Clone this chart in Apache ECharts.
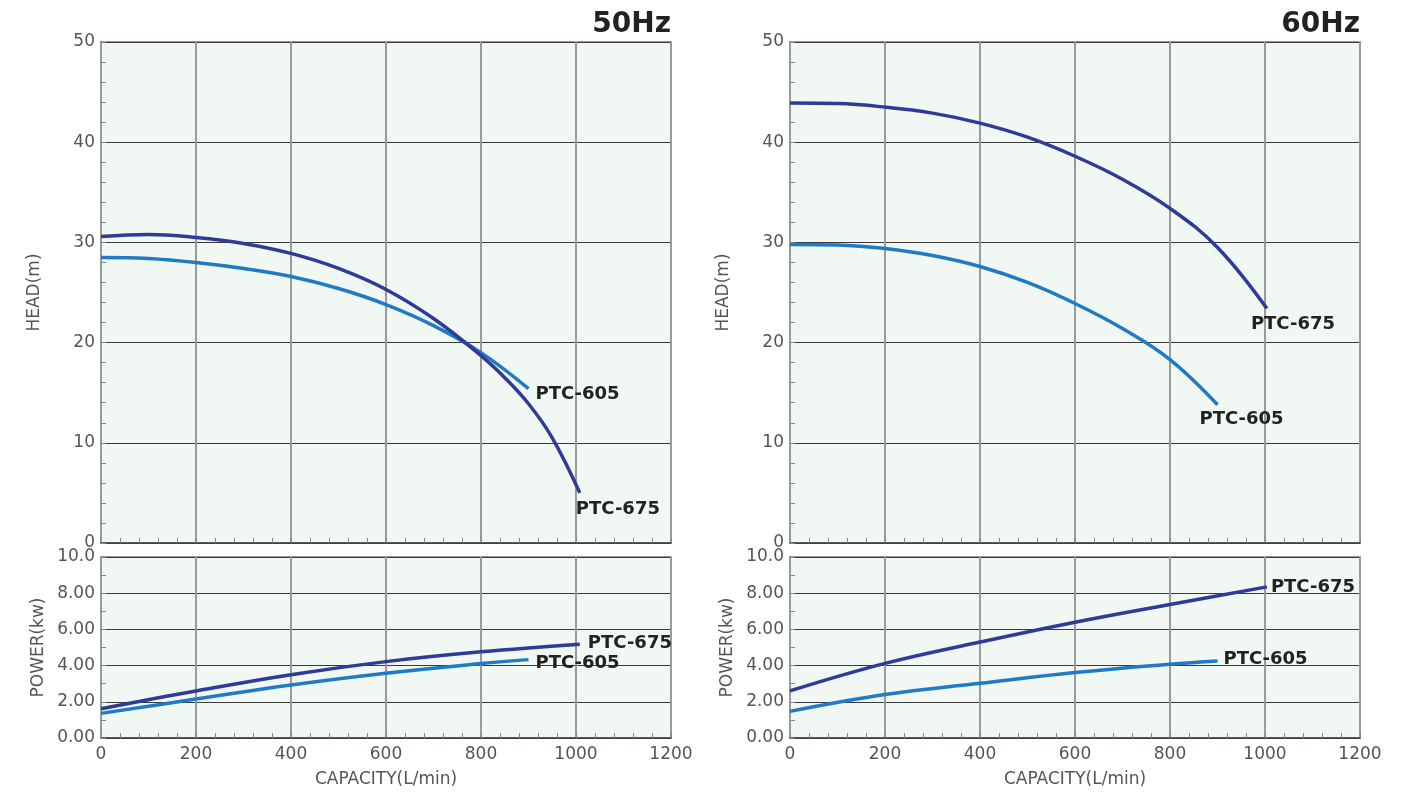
<!DOCTYPE html>
<html lang="en">
<head>
    <meta charset="UTF-8">
    <title>pump curves</title>
    <script src="https://cdn.jsdelivr.net/npm/echarts@6/dist/echarts.min.js"></script>
    <style type="text/css">
        body {
            margin: 0;
            padding: 0;
            background: #fff;
        }

        #chart {
            width: 1419px;
            height: 797px;
        }
    </style>
</head>
<body>
<div id="chart"></div>

<script>
    // x axis ticks (L/min)
    const capacityTicks = [0, 200, 400, 600, 800, 1000, 1200];

    // 50Hz head (m)
    const q50Head605 = [0, 100, 200, 300, 400, 500, 600, 700, 800, 900];
    const head50_605 = [28.5, 28.4, 28.0, 27.4, 26.6, 25.4, 23.8, 21.7, 19.0, 15.4];
    const q50Head675 = [0, 100, 200, 300, 400, 500, 600, 700, 800, 850, 900, 950, 1008];
    const head50_675 = [30.6, 30.8, 30.5, 29.9, 28.9, 27.4, 25.3, 22.4, 18.7, 16.5, 13.9, 10.5, 5.0];

    // 50Hz power (kw)
    const q50Pow675 = [0, 200, 400, 600, 800, 1008];
    const pow50_675 = [1.62, 2.6, 3.5, 4.22, 4.76, 5.18];
    const q50Pow605 = [0, 200, 400, 600, 800, 900];
    const pow50_605 = [1.36, 2.15, 2.93, 3.58, 4.11, 4.33];

    // 60Hz head (m)
    const q60Head675 = [0, 100, 200, 300, 400, 500, 600, 700, 800, 900, 1004];
    const head60_675 = [43.9, 43.85, 43.5, 42.9, 41.9, 40.5, 38.6, 36.3, 33.4, 29.5, 23.4];
    const q60Head605 = [0, 100, 200, 300, 400, 500, 600, 700, 800, 900];
    const head60_605 = [29.8, 29.75, 29.4, 28.7, 27.6, 26.0, 23.9, 21.4, 18.3, 13.8];

    // 60Hz power (kw)
    const q60Pow675 = [0, 200, 400, 600, 800, 1004];
    const pow60_675 = [2.6, 4.12, 5.3, 6.4, 7.38, 8.35];
    const q60Pow605 = [0, 200, 400, 600, 800, 900];
    const pow60_605 = [1.47, 2.4, 3.02, 3.62, 4.08, 4.26];

    const c675 = '#2e3b98';
    const c605 = '#1f7bc5';
    const labelColor = '#555';
    const font = 'DejaVu Sans';

    function pairs(xs, ys) {
        return xs.map((x, i) => [x, ys[i]]);
    }

    const chart = echarts.init(document.getElementById('chart'));

    const panels = [
        {left: 101, right: 748, title: '50Hz'},
        {left: 790, right: 59, title: '60Hz'}
    ];

    const grids = [];
    const xAxes = [];
    const yAxes = [];
    const titles = [];

    panels.forEach((p, k) => {
        // head grid, then power grid
        grids.push({left: p.left, right: p.right, top: 42, height: 501,
            show: true, backgroundColor: '#f1f7f3', borderColor: '#999', borderWidth: 2});
        grids.push({left: p.left, right: p.right, top: 557, height: 181,
            show: true, backgroundColor: '#f1f7f3', borderColor: '#999', borderWidth: 2});

        [0, 1].forEach(j => {
            const gi = k * 2 + j;
            xAxes.push({
                type: 'value', gridIndex: gi, min: capacityTicks[0],
                max: capacityTicks[capacityTicks.length - 1], interval: 200,
                axisLine: {show: true, onZero: false, lineStyle: {color: '#444', width: 1.5}},
                axisTick: {show: true, inside: true, length: 5, lineStyle: {color: '#888'}},
                minorTick: {show: true, splitNumber: 5, length: 5, lineStyle: {color: '#888'}},
                splitLine: {show: true, lineStyle: {color: '#9a9a9a', width: 2}},
                axisLabel: {show: j === 1, color: labelColor, fontSize: 17, fontFamily: font, margin: 8,
                    formatter: v => String(v)},
                name: j === 1 ? 'CAPACITY(L/min)' : '',
                nameLocation: 'middle', nameGap: 33,
                nameTextStyle: {color: labelColor, fontSize: 17, fontFamily: font}
            });
            yAxes.push({
                type: 'value', gridIndex: gi, min: 0,
                max: j === 0 ? 50 : 10, interval: j === 0 ? 10 : 2,
                axisLine: {show: true, lineStyle: {color: '#999', width: 2}},
                axisTick: {show: true, inside: true, length: 5, lineStyle: {color: '#888'}},
                minorTick: {show: true, splitNumber: j === 0 ? 5 : 2, length: 5, lineStyle: {color: '#888'}},
                splitLine: {show: true, lineStyle: {color: '#3a3a3a', width: 1}},
                axisLabel: {
                    color: labelColor, fontSize: 17, fontFamily: font, margin: 6,
                    formatter: j === 0 ? '{value}' : (v => v === 10 ? '10.0' : v.toFixed(2))
                },
                name: j === 0 ? 'HEAD(m)' : 'POWER(kw)',
                nameLocation: 'middle', nameGap: j === 0 ? 58 : 54,
                nameTextStyle: {color: labelColor, fontSize: 17, fontFamily: font}
            });
        });

        titles.push({
            text: p.title, right: p.right - 5, top: 6,
            textStyle: {fontSize: 28, fontWeight: 'bold', color: '#222', fontFamily: font}
        });
    });

    function curve(name, color, idx, data, offset) {
        return {
            name: name, type: 'line', xAxisIndex: idx, yAxisIndex: idx,
            data: data, smooth: 0.4, showSymbol: false, symbol: 'none',
            lineStyle: {color: color, width: 3.5},
            itemStyle: {color: color},
            endLabel: {
                show: true, formatter: name, distance: 0, offset: offset,
                align: 'left', verticalAlign: 'middle',
                fontSize: 18, fontWeight: 'bold', color: '#222', fontFamily: font
            },
            z: name === 'PTC-675' ? 3 : 2
        };
    }

    const series = [
        curve('PTC-605', c605, 0, pairs(q50Head605, head50_605), [7, 6]),
        curve('PTC-675', c675, 0, pairs(q50Head675, head50_675), [-4, 16]),
        curve('PTC-675', c675, 1, pairs(q50Pow675, pow50_675), [8, -1]),
        curve('PTC-605', c605, 1, pairs(q50Pow605, pow50_605), [7, 4]),
        curve('PTC-675', c675, 2, pairs(q60Head675, head60_675), [-16, 16]),
        curve('PTC-605', c605, 2, pairs(q60Head605, head60_605), [-18, 15]),
        curve('PTC-675', c675, 3, pairs(q60Pow675, pow60_675), [4, 0]),
        curve('PTC-605', c605, 3, pairs(q60Pow605, pow60_605), [6, -2])
    ];

    chart.setOption({
        animation: false,
        title: titles,
        grid: grids,
        xAxis: xAxes,
        yAxis: yAxes,
        series: series
    });
</script>
</body>
</html>
